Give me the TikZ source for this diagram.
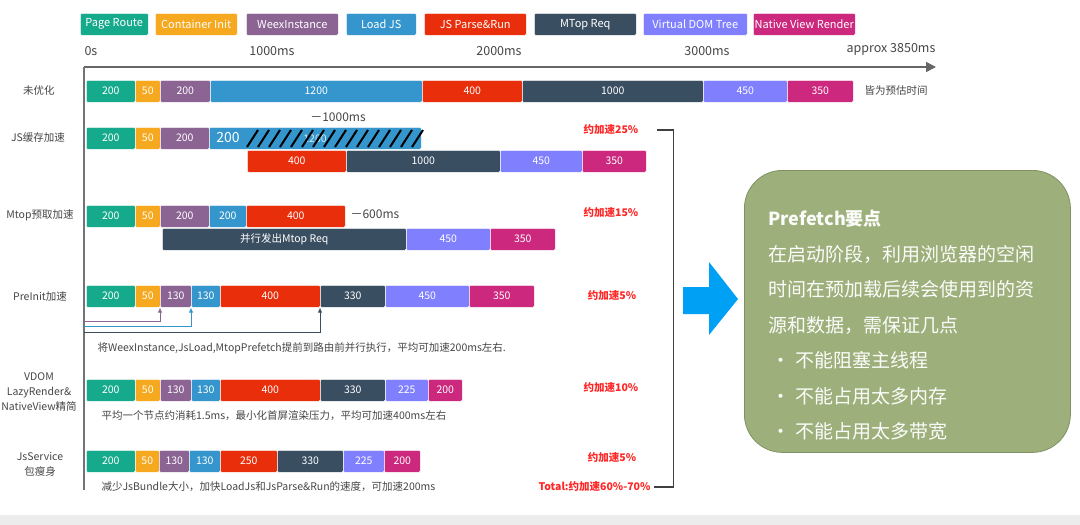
\documentclass[tikz,border=0pt]{standalone}
\usepackage{fontspec}
\setmainfont{Noto Sans CJK SC}
\usetikzlibrary{arrows.meta}
\definecolor{pageroute}{RGB}{22, 170, 140}
\definecolor{containerinit}{RGB}{246, 168, 30}
\definecolor{weexinst}{RGB}{139, 100, 148}
\definecolor{loadjs}{RGB}{52, 150, 204}
\definecolor{jsparse}{RGB}{232, 46, 10}
\definecolor{mtopreq}{RGB}{58, 78, 98}
\definecolor{vdomtree}{RGB}{128, 128, 255}
\definecolor{nativeview}{RGB}{204, 40, 126}
\definecolor{speedup}{RGB}{255, 38, 38}
\definecolor{olive}{RGB}{157, 176, 123}
\definecolor{oliveedge}{RGB}{128, 146, 98}
\definecolor{azure}{RGB}{0, 160, 245}
\definecolor{inkgray}{RGB}{70, 70, 70}
\definecolor{stripgray}{RGB}{236, 236, 236}

% one coloured block: name, x from, x to, top y, colour, label
\newcommand{\seg}[6]{\node[seg, fill=#5, minimum width={#3-#2}] (#1) at (#2,#4) {#6};}

\begin{document}
\begin{tikzpicture}[x=1pt, y=-1pt,
    seg/.style={anchor=north west, minimum height=22, inner sep=0, draw=white, line width=0.5pt,
                rounded corners=1.2pt, text=white, font=\fontsize{10.5}{12}\selectfont},
    legend/.style={seg, font=\fontsize{11}{12}\selectfont},
    rowname/.style={text=inkgray, align=center, font=\fontsize{10.5}{15}\selectfont},
    tick/.style={text=inkgray, font=\fontsize{12.5}{14}\selectfont},
    note/.style={text=inkgray, anchor=west, font=\fontsize{10.5}{12}\selectfont},
    speed/.style={text=speedup, font=\bfseries\fontsize{10.5}{12}\selectfont},
    hatch/.style={line width=2pt, black},
    link/.style={line width=1pt, -{Latex[length=5pt,width=4.5pt]}},
    bracket/.style={line width=1.1pt, draw=black!75},
    tips/.style={text=white!96!olive, align=left, inner sep=0, anchor=north west,
                 font=\fontsize{19}{35.5}\selectfont}]
    \useasboundingbox (0,0) rectangle (1080,525);
    \fill[white] (0,0) rectangle (1080,525);
    \fill[stripgray] (0,515) rectangle (1080,525);

    % legend
    \node[legend, fill=pageroute, minimum width=68] (g1) at (80,13) {Page Route};
    \node[legend, fill=containerinit, minimum width=82] (g2) at (155,13) {Container Init};
    \node[legend, fill=weexinst, minimum width=92] (g3) at (246,13) {WeexInstance};
    \node[legend, fill=loadjs, minimum width=70] (g4) at (346,13) {Load JS};
    \node[legend, fill=jsparse, minimum width=102] (g5) at (424,13) {JS Parse\&Run};
    \node[legend, fill=mtopreq, minimum width=102] (g6) at (534,13) {MTop Req};
    \node[legend, fill=vdomtree, minimum width=104] (g7) at (643,13) {Virtual DOM Tree};
    \node[legend, fill=nativeview, minimum width=102] (g8) at (753,13) {Native View Render};

    % time axis
    \coordinate (origin) at (84,67);
    \coordinate (tend) at (936,67);
    \coordinate (yend) at (84,490);
    \draw[line width=1.5pt, black!60, -{Triangle[length=10pt,width=10pt]}] (origin) -- (tend);
    \draw[line width=1.2pt, black!55] (origin) -- (yend);
    \node[tick, anchor=west] (t0) at (81,51) {0s};
    \node[tick] (t1) at (272,51) {1000ms};
    \node[tick] (t2) at (499,51) {2000ms};
    \node[tick] (t3) at (707,51) {3000ms};
    \node[tick] (t4) at (891,49) {approx 3850ms};

    % rows
    \node[rowname] (n1) at (39,91) {未优化};
    \seg{a1}{86}{135}{80}{pageroute}{200}
    \seg{a2}{135}{160}{80}{containerinit}{50}
    \seg{a3}{160}{210}{80}{weexinst}{200}
    \seg{a4}{210}{422}{80}{loadjs}{1200}
    \seg{a5}{422}{522}{80}{jsparse}{400}
    \seg{a6}{522}{703}{80}{mtopreq}{1000}
    \seg{a7}{703}{787}{80}{vdomtree}{450}
    \seg{a8}{787}{853}{80}{nativeview}{350}
    \node[note] (est) at (861,91) {皆为预估时间};

    \node[rowname] (n2) at (38,138) {JS缓存加速};
    \seg{b1}{86}{135}{127}{pageroute}{200}
    \seg{b2}{135}{160}{127}{containerinit}{50}
    \seg{b3}{160}{209}{127}{weexinst}{200}
    \seg{b4}{209}{421}{127}{loadjs}{}
    \node[text=white, font=\fontsize{14}{16}\selectfont] (b4a) at (228,138) {200};
    \node[text=white, opacity=0.8, font=\fontsize{10.5}{12}\selectfont] (b4b) at (315,139) {1200};
    \foreach \x in {247,258,...,412}
        \draw[hatch] (\x,147) -- ++(11,-17);
    \node[tick, font=\fontsize{12}{14}\selectfont] (cut1) at (338,117) {－1000ms};
    \seg{bb1}{247}{346}{150}{jsparse}{400}
    \seg{bb2}{346}{500}{150}{mtopreq}{1000}
    \seg{bb3}{500}{582}{150}{vdomtree}{450}
    \seg{bb4}{582}{646}{150}{nativeview}{350}

    \node[rowname] (n3) at (40,215) {Mtop预取加速};
    \seg{c1}{86}{135}{205}{pageroute}{200}
    \seg{c2}{135}{160}{205}{containerinit}{50}
    \seg{c3}{160}{209}{205}{weexinst}{200}
    \seg{c4}{209}{246}{205}{loadjs}{200}
    \seg{c5}{246}{345}{205}{jsparse}{400}
    \node[tick, anchor=west, font=\fontsize{12}{14}\selectfont] (cut2) at (347,214) {－600ms};
    \seg{cc1}{162}{406}{228}{mtopreq}{并行发出Mtop Req}
    \seg{cc2}{406}{490}{228}{vdomtree}{450}
    \seg{cc3}{490}{555}{228}{nativeview}{350}

    \node[rowname] (n4) at (40,297) {PreInit加速};
    \seg{d1}{86}{135}{285}{pageroute}{200}
    \seg{d2}{135}{160}{285}{containerinit}{50}
    \seg{d3}{160}{191}{285}{weexinst}{130}
    \seg{d4}{191}{220}{285}{loadjs}{130}
    \seg{d5}{220}{320}{285}{jsparse}{400}
    \seg{d6}{320}{385}{285}{mtopreq}{330}
    \seg{d7}{385}{469}{285}{vdomtree}{450}
    \seg{d8}{469}{534}{285}{nativeview}{350}
    \coordinate (p1) at (84,321);
    \coordinate (p2) at (84,326);
    \coordinate (p3) at (84,332);
    \draw[link, weexinst] (p1) -| (d3.south west);
    \draw[link, loadjs] (p2) -| (d4.south west);
    \draw[link, mtopreq] (p3) -| (d6.south west);
    \node[note] (m4) at (94,348) {将WeexInstance,JsLoad,MtopPrefetch提前到路由前并行执行，平均可加速200ms左右.};

    \node[rowname] (n5) at (39,392) {VDOM\\LazyRender\&\\NativeView精简};
    \seg{e1}{86}{135}{379}{pageroute}{200}
    \seg{e2}{135}{160}{379}{containerinit}{50}
    \seg{e3}{160}{191}{379}{weexinst}{130}
    \seg{e4}{191}{220}{379}{loadjs}{130}
    \seg{e5}{220}{320}{379}{jsparse}{400}
    \seg{e6}{320}{385}{379}{mtopreq}{330}
    \seg{e7}{385}{428}{379}{vdomtree}{225}
    \seg{e8}{428}{462}{379}{nativeview}{200}
    \node[note] (m5) at (98,416) {平均一个节点约消耗1.5ms，最小化首屏渲染压力，平均可加速400ms左右};

    \node[rowname] (n6) at (40,464) {JsService\\包瘦身};
    \seg{f1}{86}{135}{450}{pageroute}{200}
    \seg{f2}{135}{159}{450}{containerinit}{50}
    \seg{f3}{159}{189}{450}{weexinst}{130}
    \seg{f4}{189}{220}{450}{loadjs}{130}
    \seg{f5}{220}{277}{450}{jsparse}{250}
    \seg{f6}{277}{343}{450}{mtopreq}{330}
    \seg{f7}{343}{384}{450}{vdomtree}{225}
    \seg{f8}{384}{420}{450}{nativeview}{200}
    \node[note] (m6) at (98,487) {减少JsBundle大小，加快LoadJs和JsParse\&Run的速度，可加速200ms};

    % speed-up per row
    \node[speed] (s25) at (611,130) {约加速25\%};
    \node[speed] (s15) at (611,213) {约加速15\%};
    \node[speed] (s5a) at (612,296) {约加速5\%};
    \node[speed] (s10) at (611,388) {约加速10\%};
    \node[speed] (s5b) at (612,458) {约加速5\%};
    \node[speed, anchor=east] (total) at (654,487) {Total:约加速60\%-70\%};
    \draw[bracket] ([xshift=15pt]s25.east) -- ([xshift=32pt]s25.east) |- (total.east);

    % prefetch notes
    \fill[azure] (683,287) -- (709,287) -- (709,262) -- (738,299) -- (709,335) -- (709,314) -- (683,314) -- cycle;
    \node[draw=oliveedge, fill=olive, line width=0.8pt, rounded corners=38pt, anchor=north west,
          minimum width=326, minimum height=282] (tipbox) at (744,170) {};
    \node[tips] (tiptext) at ([xshift=24pt, yshift=-40pt]tipbox.north west)
        {{\bfseries\fontsize{18}{35.5}\selectfont Prefetch要点}\\
         在启动阶段，利用浏览器的空闲\\
         时间在预加载后续会使用到的资\\
         源和数据，需保证几点\\
         \makebox[27pt][l]{\,•}不能阻塞主线程\\
         \makebox[27pt][l]{\,•}不能占用太多内存\\
         \makebox[27pt][l]{\,•}不能占用太多带宽};
\end{tikzpicture}
\end{document}
